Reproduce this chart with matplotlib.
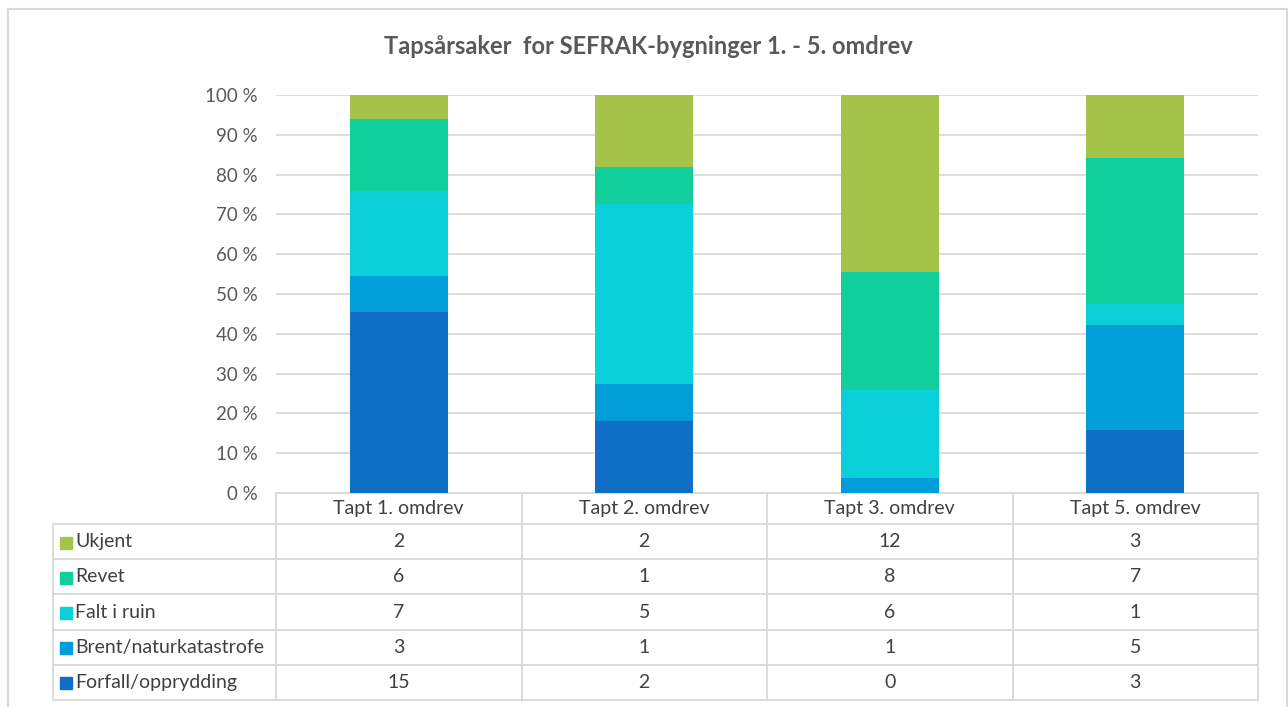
import numpy as np
import matplotlib
matplotlib.use("Agg")
import matplotlib.pyplot as plt
from matplotlib.patches import Rectangle
from matplotlib.table import Table

plt.rcParams['font.family'] = ['Lato', 'DejaVu Sans']

# data
categories = ['Tapt 1. omdrev', 'Tapt 2. omdrev', 'Tapt 3. omdrev', 'Tapt 5. omdrev']
series_names = ['Forfall/opprydding', 'Brent/naturkatastrofe', 'Falt i ruin', 'Revet', 'Ukjent']
forfall = [15, 2, 0, 3]
brent = [3, 1, 1, 5]
falt = [7, 5, 6, 1]
revet = [6, 1, 8, 7]
ukjent = [2, 2, 12, 3]
colors = ['#0F6FC6', '#009DD9', '#0BD0D9', '#10CF9B', '#A5C249']

values = np.array([forfall, brent, falt, revet, ukjent], dtype=float)
totals = values.sum(axis=0)
pct = values / totals * 100

fig = plt.figure(figsize=(12.88, 7.07), dpi=100)
W, H = 1288, 707
ax = fig.add_axes([276 / W, 1 - 493 / H, 982 / W, 398 / H])

x = np.arange(len(categories))
bottom = np.zeros(len(categories))
for i in range(len(series_names)):
    ax.bar(x, pct[i], bottom=bottom, width=0.4, color=colors[i], zorder=3)
    bottom += pct[i]

ax.set_xlim(-0.5, len(categories) - 0.5)
ax.set_ylim(0, 100)
ax.set_yticks(np.arange(0, 101, 10))
ax.set_yticklabels([f'{v} %' for v in range(0, 101, 10)])
ax.tick_params(axis='y', length=0, pad=13, labelsize=13.5, labelcolor='#595959')
ax.set_xticks([])
ax.grid(axis='y', color='#D9D9D9', linewidth=1.3, zorder=0)
for s in ax.spines.values():
    s.set_visible(False)

# data table below
order = list(range(len(series_names)))[::-1]
tbl = Table(ax, bbox=[-223 / 982, -207 / 398, 1205 / 982, 207 / 398])
lab_w, col_w = 223, 245.5
for c, cat in enumerate(categories):
    tbl.add_cell(0, c + 1, width=col_w, height=31, text=cat, loc='center')
for r, i in enumerate(order):
    tbl.add_cell(r + 1, 0, width=lab_w, height=35, text=series_names[i], loc='left')
    for c in range(len(categories)):
        tbl.add_cell(r + 1, c + 1, width=col_w, height=35,
                     text=str(int(values[i][c])), loc='center')
tbl.auto_set_font_size(False)
tbl.set_fontsize(14)
for (r, c), cell in tbl.get_celld().items():
    cell.set_edgecolor('#D9D9D9')
    cell.set_linewidth(1.3)
    cell.get_text().set_color('#404040')
ax.add_table(tbl)

# legend keys in row label cells
for k, i in enumerate(order):
    yc = 525 + 35 * k + 17.5
    fig.add_artist(Rectangle((60 / W, 1 - (yc + 6) / H), 12 / W, 12 / H,
                             transform=fig.transFigure, color=colors[i]))

# title
fig.text(648 / W, 1 - 47 / H, 'Tapsårsaker  for SEFRAK-bygninger 1. - 5. omdrev',
         ha='center', va='center', fontsize=17, fontweight='bold', color='#595959')

# chart border
fig.add_artist(Rectangle((7.5 / W, 1 - 720 / H), 1279 / W, 711 / H,
                         transform=fig.transFigure, fill=False,
                         edgecolor='#D9D9D9', linewidth=1.5))

fig.savefig('out.png', dpi=100)
